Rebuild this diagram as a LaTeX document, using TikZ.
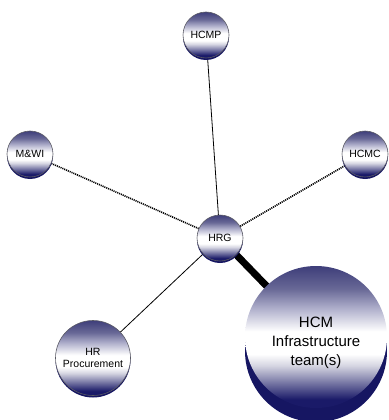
\documentclass[tikz,border=0pt]{standalone}
\usepackage{fontspec}
\setmainfont{Liberation Sans}
\usetikzlibrary{shadows,backgrounds}

\definecolor{discTop}{RGB}{62,62,122}
\definecolor{discSlate}{RGB}{104,104,150}
\definecolor{discLav}{RGB}{176,176,204}
\definecolor{discPale}{RGB}{214,214,226}
\definecolor{discBot}{RGB}{26,26,104}
\definecolor{discSide}{RGB}{22,22,98}
\definecolor{rimGray}{RGB}{90,90,100}

% listed from the bottom rim (25bp) to the top rim (75bp)
\pgfdeclareverticalshading{discshade}{100bp}{%
  color(0bp)=(discBot); color(28bp)=(discBot);
  color(40bp)=(discPale); color(44bp)=(white);
  color(52bp)=(white); color(60bp)=(discLav);
  color(67bp)=(discSlate); color(75bp)=(discTop);
  color(100bp)=(discTop)}

\tikzset{
  disc/.style={circle, inner sep=0pt, minimum size=46pt,
    draw=rimGray, line width=0.6pt, shading=discshade,
    copy shadow={shadow xshift=0pt, shadow yshift=-2pt, fill=discSide, draw=none},
    font=\fontsize{10.5}{12.5}\selectfont, align=center},
  bigdisc/.style={circle, inner sep=0pt, minimum size=142pt, shading=discshade},
  bigtext/.style={font=\fontsize{15}{19}\selectfont, align=center},
  thinlink/.style={draw=black, line width=0.8pt},
  dotlink/.style={draw=black, line width=1.6pt, dash pattern=on 1.1pt off 0.9pt},
  heavylink/.style={draw=black, line width=7pt, line cap=round}
}

\begin{document}
\begin{tikzpicture}[x=1pt, y=-1pt]
  \useasboundingbox (0,0) rectangle (388,420);

  % nodes
  \node[disc] (hcmp) at (206,35) {HCMP};
  \node[disc] (mwi)  at (30,154) {M\&WI};
  \node[disc] (hcmc) at (365,154) {HCMC};
  \node[disc] (hrg)  at (220,238) {HRG};
  \node[disc, minimum size=75pt] (hrp) at (93,358) {HR\\Procurement};
  \node[bigdisc] (hcm) at (316,337) {};
  \node[bigtext] (hcmtext) at (316,343) {HCM\\Infrastructure\\team(s)};

  \begin{scope}[on background layer]
    % side of the large disc
    \fill[discSide] (316,351) circle [radius=71pt];
    \fill[discSide] (245,337) rectangle (387,351);
    % links
    \draw[thinlink] (hrg) -- (hcmp);
    \draw[thinlink] (hrg) -- (hrp);
    \draw[dotlink] (hrg) -- (mwi);
    \draw[dotlink] (hrg) -- (hcmc);
    \draw[heavylink] (hrg) -- (hcm);
  \end{scope}
\end{tikzpicture}
\end{document}
